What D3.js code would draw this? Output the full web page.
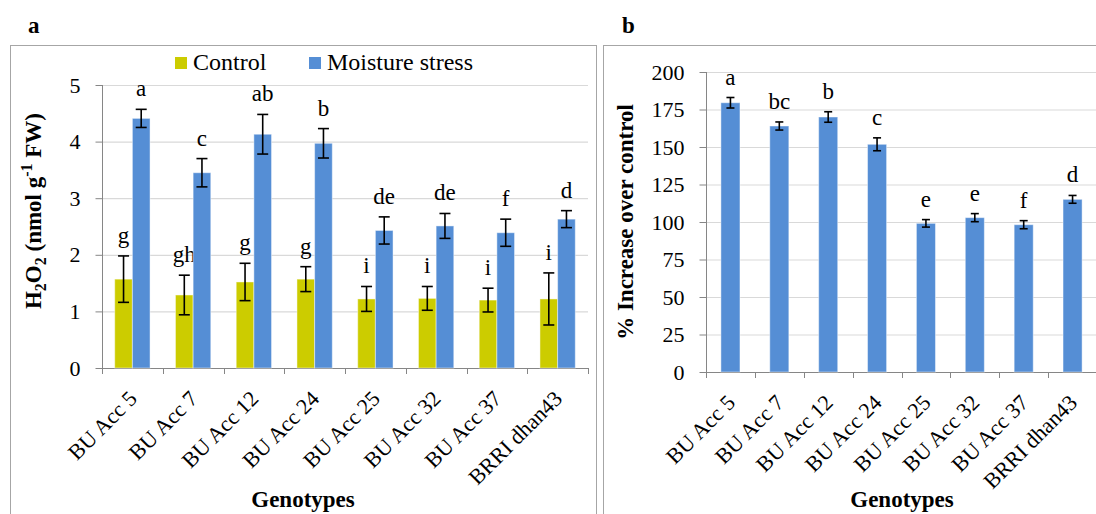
<!DOCTYPE html>
<html>
<head>
<meta charset="utf-8">
<script src="https://cdn.jsdelivr.net/npm/d3@7"></script>
<style>
  body { margin: 0; background: #fff; }
  svg { display: block; }
  svg text { font-family: "Liberation Serif", "Times New Roman", serif; fill: #000; }
  .axis path, .axis line { stroke: #868686; }
  .axis text { font-size: 22px; }
</style>
</head>
<body>
<svg id="chart" width="1096" height="514"></svg>
<script>
// genotypes on both panels
const genotypes = ["BU Acc 5", "BU Acc 7", "BU Acc 12", "BU Acc 24", "BU Acc 25", "BU Acc 32", "BU Acc 37", "BRRI dhan43"];

// panel a: H2O2 content (nmol g-1 FW)
const controlH2O2 = [1.57, 1.29, 1.52, 1.57, 1.22, 1.23, 1.20, 1.22];
const controlErr = [0.41, 0.35, 0.33, 0.22, 0.22, 0.21, 0.21, 0.46];
const controlLetters = ["g", "gh", "g", "g", "i", "i", "i", "i"];
const stressH2O2 = [4.41, 3.45, 4.13, 3.97, 2.43, 2.51, 2.39, 2.63];
const stressErr = [0.16, 0.25, 0.35, 0.26, 0.24, 0.22, 0.24, 0.15];
const stressLetters = ["a", "c", "ab", "b", "de", "de", "f", "d"];
const h2o2Ticks = [0, 1, 2, 3, 4, 5];

// panel b: % increase over control
const increase = [179.5, 164, 170, 151.8, 99.1, 102.9, 98.2, 115.1];
const increaseErr = [3.5, 2.7, 3.5, 4.3, 2.5, 2.7, 2.7, 2.6];
const increaseLetters = ["a", "bc", "b", "c", "e", "e", "f", "d"];
const increaseTicks = [0, 25, 50, 75, 100, 125, 150, 175, 200];

const series = ["Control", "Moisture stress"];
const colors = { "Control": "#cccc00", "Moisture stress": "#558ed5" };

const svg = d3.select("#chart");

// panel frames
svg.append("rect").attr("x", 10.5).attr("y", 45.5).attr("width", 586).attr("height", 500)
    .attr("fill", "none").attr("stroke", "#a6a6a6");
svg.append("rect").attr("x", 603.5).attr("y", 45.5).attr("width", 520).attr("height", 500)
    .attr("fill", "none").attr("stroke", "#a6a6a6");

// panel letters
svg.append("text").attr("x", 28).attr("y", 33).attr("font-size", 23).attr("font-weight", "bold").text("a");
svg.append("text").attr("x", 622).attr("y", 33).attr("font-size", 23).attr("font-weight", "bold").text("b");

// shared helper: grid, y axis, category ticks and rotated labels
function drawFrame(g, x, y, ticks, x0, x1) {
    const y0 = y.range()[0];

    g.append("g").selectAll("line")
        .data(ticks.filter(t => t > 0))
        .join("line")
        .attr("x1", x0).attr("x2", x1)
        .attr("y1", d => y(d) + 0.5).attr("y2", d => y(d) + 0.5)
        .attr("stroke", "#d9d9d9").attr("stroke-width", 1.2);

    g.append("g").attr("class", "axis")
        .attr("transform", `translate(${x0 + 0.5},0)`)
        .call(d3.axisLeft(y).tickValues(ticks).tickFormat(d3.format("d"))
            .tickSize(7).tickSizeOuter(0).tickPadding(15))
        .call(a => a.select(".domain").attr("d", `M0,${y0}V${y(ticks[ticks.length - 1])}`));

    // x axis line and ticks between categories
    const xa = g.append("g").attr("class", "axis");
    xa.append("line").attr("x1", x0).attr("x2", x1).attr("y1", y0 + 0.5).attr("y2", y0 + 0.5);
    const edges = genotypes.map(d => x(d)).concat([x(genotypes[genotypes.length - 1]) + x.step()]);
    xa.selectAll(".tk").data(edges).join("line").attr("class", "tk")
        .attr("x1", d => Math.round(d) + 0.5).attr("x2", d => Math.round(d) + 0.5)
        .attr("y1", y0).attr("y2", y0 + 6);

    g.append("g").selectAll("text")
        .data(genotypes)
        .join("text")
        .attr("transform", d => `translate(${x(d) + x.bandwidth() / 2 + 6},${y0 + 32}) rotate(-45)`)
        .attr("text-anchor", "end")
        .attr("font-size", 22)
        .text(d => d);
}

function errorBars(g, cx, y, vals, errs, cap) {
    const eb = g.append("g").attr("stroke", "#000").attr("stroke-width", 1.6);
    vals.forEach((v, i) => {
        const c = cx(i);
        eb.append("line").attr("x1", c).attr("x2", c).attr("y1", y(v - errs[i])).attr("y2", y(v + errs[i]));
        eb.append("line").attr("x1", c - cap / 2).attr("x2", c + cap / 2).attr("y1", y(v - errs[i])).attr("y2", y(v - errs[i]));
        eb.append("line").attr("x1", c - cap / 2).attr("x2", c + cap / 2).attr("y1", y(v + errs[i])).attr("y2", y(v + errs[i]));
    });
}

function letters(g, cx, y, vals, errs, labs) {
    g.append("g").selectAll("text")
        .data(labs)
        .join("text")
        .attr("x", (d, i) => cx(i))
        .attr("y", (d, i) => y(vals[i] + errs[i]) - 13)
        .attr("text-anchor", "middle")
        .attr("font-size", 23)
        .text(d => d);
}

// ---------- panel a ----------
const ga = svg.append("g");
const xA = d3.scaleBand().domain(genotypes).range([102, 588]).padding(0);
const subA = d3.scaleBand().domain(series).range([0, xA.bandwidth()]).paddingOuter(0.72).paddingInner(0);
const yA = d3.scaleLinear().domain([0, 5]).range([368, 85]);

drawFrame(ga, xA, yA, h2o2Ticks, 102, 588);

const seriesA = [
    { name: "Control", vals: controlH2O2, errs: controlErr, labs: controlLetters },
    { name: "Moisture stress", vals: stressH2O2, errs: stressErr, labs: stressLetters }
];

seriesA.forEach(s => {
    const cx = i => xA(genotypes[i]) + subA(s.name) + subA.bandwidth() / 2;
    ga.append("g").selectAll("rect")
        .data(s.vals)
        .join("rect")
        .attr("x", (d, i) => xA(genotypes[i]) + subA(s.name))
        .attr("y", d => yA(d))
        .attr("width", subA.bandwidth())
        .attr("height", d => yA(0) - yA(d))
        .attr("fill", colors[s.name])
        .attr("stroke", "rgba(255,255,255,0.45)")
        .attr("stroke-width", 1);
    errorBars(ga, cx, yA, s.vals, s.errs, 11);
    letters(ga, cx, yA, s.vals, s.errs, s.labs);
});

// legend
const legend = svg.append("g");
const legendX = [175, 309];
series.forEach((s, i) => {
    legend.append("rect").attr("x", legendX[i]).attr("y", 57).attr("width", 12).attr("height", 12).attr("fill", colors[s]);
    legend.append("text").attr("x", legendX[i] + 18).attr("y", 70).attr("font-size", 24).text(s);
});

// y title a
const ta = svg.append("text")
    .attr("transform", "translate(41,211) rotate(-90)")
    .attr("text-anchor", "middle")
    .attr("font-size", 23).attr("font-weight", "bold");
ta.append("tspan").text("H");
ta.append("tspan").attr("font-size", 16).attr("dy", 5).text("2");
ta.append("tspan").attr("dy", -5).text("O");
ta.append("tspan").attr("font-size", 16).attr("dy", 5).text("2");
ta.append("tspan").attr("dy", -5).text(" (nmol g");
ta.append("tspan").attr("font-size", 16).attr("dy", -9).text("-1");
ta.append("tspan").attr("dy", 9).text(" FW)");

svg.append("text").attr("x", 303).attr("y", 507).attr("text-anchor", "middle")
    .attr("font-size", 23).attr("font-weight", "bold").text("Genotypes");

// ---------- panel b ----------
const gb = svg.append("g");
const xB = d3.scaleBand().domain(genotypes).range([706, 1097]).padding(0);
const yB = d3.scaleLinear().domain([0, 200]).range([372, 72]);
const barW = xB.bandwidth() * 0.39;

drawFrame(gb, xB, yB, increaseTicks, 706, 1096);

const cxB = i => xB(genotypes[i]) + xB.bandwidth() / 2;
gb.append("g").selectAll("rect")
    .data(increase)
    .join("rect")
    .attr("x", (d, i) => cxB(i) - barW / 2)
    .attr("y", d => yB(d))
    .attr("width", barW)
    .attr("height", d => yB(0) - yB(d))
    .attr("fill", colors["Moisture stress"])
    .attr("stroke", "rgba(255,255,255,0.45)")
    .attr("stroke-width", 1);
errorBars(gb, cxB, yB, increase, increaseErr, 8);
letters(gb, cxB, yB, increase, increaseErr, increaseLetters);

svg.append("text")
    .attr("transform", "translate(633,222) rotate(-90)")
    .attr("text-anchor", "middle")
    .attr("font-size", 23).attr("font-weight", "bold")
    .text("% Increase over control");

svg.append("text").attr("x", 902).attr("y", 507).attr("text-anchor", "middle")
    .attr("font-size", 23).attr("font-weight", "bold").text("Genotypes");
</script>
</body>
</html>
